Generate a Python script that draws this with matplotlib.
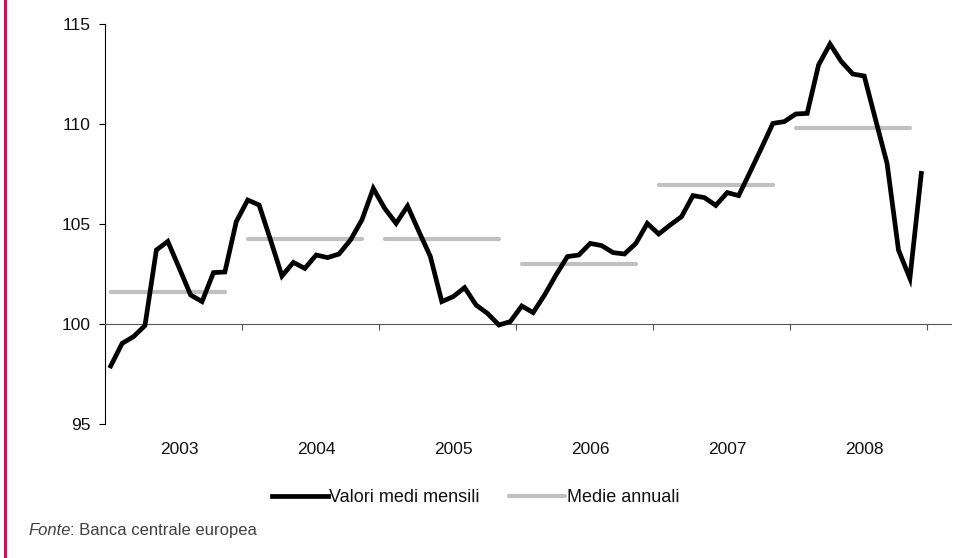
"""Tasso di cambio effettivo: valori medi mensili e medie annuali, 2003-2008."""

import matplotlib

matplotlib.use("Agg")
import matplotlib.pyplot as plt  # noqa: E402
from matplotlib.lines import Line2D  # noqa: E402
from matplotlib.patches import Rectangle  # noqa: E402

plt.rcParams["font.family"] = ["Liberation Sans", "DejaVu Sans"]

ANNI = ["2003", "2004", "2005", "2006", "2007", "2008"]

# valori medi mensili, gen 2003 - dic 2008
VALORI_MENSILI = [
    97.9, 99.03, 99.37, 99.92, 103.7, 104.13, 102.8, 101.45, 101.12, 102.57, 102.6, 105.12,
    106.2, 105.95, 104.2, 102.4, 103.08, 102.78, 103.45, 103.32, 103.5, 104.2, 105.2, 106.78,
    105.78, 105.03, 105.9, 104.62, 103.37, 101.12, 101.37, 101.82, 100.95, 100.53, 99.95, 100.12,
    100.9, 100.57, 101.45, 102.45, 103.37, 103.45, 104.03, 103.92, 103.57, 103.5, 104.03, 105.03,
    104.5, 104.95, 105.37, 106.42, 106.32, 105.93, 106.57, 106.42, 107.6, 108.8, 110.03, 110.12,
    110.5, 110.53, 112.95, 114.0, 113.12, 112.5, 112.4, 110.2, 108.03, 103.7, 102.28, 107.53,
]

MEDIE_ANNUALI = [101.62, 104.25, 104.25, 103.02, 106.93, 109.78]

Y_TICKS = [95, 100, 105, 110, 115]

BLACK = "#000000"
GREY = "#c0c0c0"
CRIMSON = "#d0124a"
TEXT = "#111111"

fig = plt.figure(figsize=(9.76, 5.58), dpi=100, facecolor="white")
ax = fig.add_axes([105 / 976, 1 - 424 / 558, 846 / 976, 400 / 558])

mesi = list(range(len(VALORI_MENSILI)))
ax.plot(mesi, VALORI_MENSILI, color=BLACK, linewidth=3.4, solid_joinstyle="miter", zorder=3)

for k, media in enumerate(MEDIE_ANNUALI):
    ax.plot([12 * k, 12 * k + 10], [media, media], color=GREY, linewidth=3.0,
            solid_capstyle="round", zorder=2)

ax.set_xlim(-0.5, 73.6)
ax.set_ylim(95, 115)

ax.spines["top"].set_visible(False)
ax.spines["right"].set_visible(False)
ax.spines["left"].set_color(BLACK)
ax.spines["left"].set_linewidth(0.8)
ax.spines["bottom"].set_position(("data", 100))
ax.spines["bottom"].set_color("#555555")
ax.spines["bottom"].set_linewidth(0.8)

ax.set_yticks(Y_TICKS)
ax.set_yticklabels([str(v) for v in Y_TICKS])
ax.tick_params(axis="y", direction="out", length=4.3, width=0.8, pad=6,
               labelsize=12.5, labelcolor=TEXT, color=BLACK)

ax.set_xticks([12 * k + 11.5 for k in range(len(ANNI))])
ax.set_xticklabels([])
ax.tick_params(axis="x", direction="out", length=4.3, width=0.8, color="#555555")

for k, anno in enumerate(ANNI):
    ax.text(12 * k + 6, 93.7, anno, ha="center", va="center", fontsize=12.5,
            color=TEXT, clip_on=False)

handles = [
    Line2D([], [], color=BLACK, linewidth=3.4),
    Line2D([], [], color=GREY, linewidth=3.0, solid_capstyle="round"),
]
fig.legend(handles, ["Valori medi mensili", "Medie annuali"], loc="center",
           bbox_to_anchor=(0.487, 1 - 498 / 558), ncol=2, frameon=False,
           handlelength=3.1, handletextpad=0.1, columnspacing=1.6, fontsize=13,
           labelcolor=TEXT)

# fonte: "Fonte" in corsivo, il resto in tondo subito dopo
fonte = fig.text(28 / 976, 1 - 535 / 558, "Fonte", style="italic", fontsize=12,
                 color="#404040", va="baseline", ha="left")
ax.annotate(": Banca centrale europea", xy=(1, 0), xycoords=fonte, fontsize=12,
            color="#404040", va="bottom", ha="left", annotation_clip=False)

fig.patches.append(Rectangle((4 / 976, 0), 3 / 976, 1, transform=fig.transFigure,
                             facecolor=CRIMSON, edgecolor="none"))

fig.savefig("out.png", dpi=100, facecolor="white")
